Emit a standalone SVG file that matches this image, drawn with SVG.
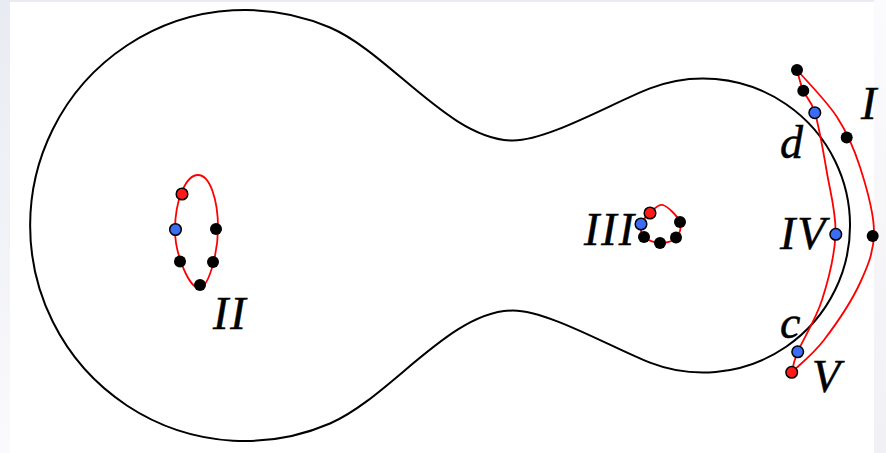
<svg xmlns="http://www.w3.org/2000/svg" width="886" height="453" viewBox="0 0 886 453">
<defs>
<linearGradient id="lg" x1="0" y1="0" x2="0" y2="1">
<stop offset="0" stop-color="#e9ebf2"/>
<stop offset="1" stop-color="#fafafc"/>
</linearGradient>
<linearGradient id="rg" x1="0" y1="0" x2="0" y2="1">
<stop offset="0" stop-color="#fbfbfd"/>
<stop offset="1" stop-color="#f1f1f5"/>
</linearGradient>
<style>
.outline{fill:none;stroke:#000;stroke-width:2}
.curve{fill:none;stroke:#ff0000;stroke-width:1.8}
.bk{fill:#000}
.bl{fill:#3a6cf4;stroke:#000;stroke-width:1.5}
.rd{fill:#ff1a1a;stroke:#000;stroke-width:1.5}
.lbl{font-family:"Liberation Serif","Times New Roman",serif;font-style:italic;font-size:46px;letter-spacing:2px;fill:#000;stroke:#000;stroke-width:0.5}
</style>
</defs>
<rect x="0" y="0" width="886" height="453" fill="url(#lg)"/>
<rect x="874" y="0" width="12" height="453" fill="url(#rg)"/>
<rect x="10" y="2" width="864" height="451" fill="#fff"/>

<g id="outline">
<path class="outline" d="M330,27.5 C390,53.4 450,140.5 513,140.5 C548,140.5 612.7,102.8 650,88.4 A147,147 0 1 1 650,362.6 C612.7,348.2 548,310.5 513,310.5 C450,310.5 390,397.6 330,423.5 A215,215.5 0 1 1 330,27.5 Z"/>
</g>

<g id="connectors">
<path id="loop-II" class="curve" d="M198,175 C210,175 218,200 218,228 C218,250 210,285 200,288 C190,290 175,255 175,230 C175,200 186,175 198,175 Z"/>
<path id="loop-III" class="curve" d="M650,213 C653.67,209.83 658,203.5 663,205 C668,206.5 677.83,216.5 680,222 C682.17,227.5 679.33,234.5 676,238 C672.67,241.5 665.33,243.17 660,243 C654.67,242.83 647.17,240.17 644,237 C640.83,233.83 640,228 641,224 C642,220 646.33,216.17 650,213 Z"/>
<path id="curve-outer" class="curve" d="M797,70 C803.7,77.8 826.5,100.8 837,117 C847.5,133.2 853.8,147.8 860,167 C866.2,186.2 874,212.7 874,232 C874,251.3 868.3,265 860,283 C851.7,301 835.3,325.2 824,340 C812.7,354.8 797.3,366.7 792,372"/>
<path id="curve-inner" class="curve" d="M797,70 C798.05,73.5 800.3,83.83 803.3,91 C806.3,98.17 811.05,99.33 815,113 C818.95,126.67 823.58,152.83 827,173 C830.42,193.17 836.33,212.83 835.5,234 C834.67,255.17 828.3,280.33 822,300 C815.7,319.67 802.75,339.95 797.7,352 C792.65,364.05 792.7,368.92 791.7,372.3"/>
</g>

<g id="node-II">
<circle class="rd" cx="182" cy="194" r="5.8"/>
<circle class="bl" cx="175.5" cy="229.5" r="5.8"/>
<circle class="bk" cx="216" cy="229" r="6"/>
<circle class="bk" cx="180" cy="261.5" r="6"/>
<circle class="bk" cx="213" cy="262" r="6"/>
<circle class="bk" cx="200" cy="285" r="6"/>
</g>

<g id="node-III">
<circle class="rd" cx="650" cy="213" r="5.8"/>
<circle class="bl" cx="641" cy="224" r="5.8"/>
<circle class="bk" cx="680" cy="222" r="6"/>
<circle class="bk" cx="644" cy="237" r="6"/>
<circle class="bk" cx="660" cy="243" r="6"/>
<circle class="bk" cx="676" cy="237.5" r="6"/>
</g>

<g id="node-I">
<circle class="bk" cx="797" cy="70" r="6"/>
<circle class="bk" cx="803.3" cy="90.7" r="6"/>
<circle class="bl" cx="814.8" cy="112.7" r="5.8"/>
<circle class="bk" cx="846.7" cy="137.5" r="6"/>
<circle class="bk" cx="872.7" cy="236" r="6"/>
</g>

<g id="node-IV">
<circle class="bl" cx="835.8" cy="234.3" r="5.8"/>
</g>

<g id="node-V">
<circle class="bl" cx="797.7" cy="351.8" r="5.8"/>
<circle class="rd" cx="791.7" cy="372.3" r="5.8"/>
</g>

<g id="labels">
<text class="lbl" x="861" y="119">I</text>
<text class="lbl" x="780" y="158">d</text>
<text class="lbl" x="780" y="249">IV</text>
<text class="lbl" x="780" y="338">c</text>
<text class="lbl" x="812" y="392">V</text>
<text class="lbl" x="213" y="329">II</text>
<text class="lbl" x="584" y="245">III</text>
</g>
</svg>
